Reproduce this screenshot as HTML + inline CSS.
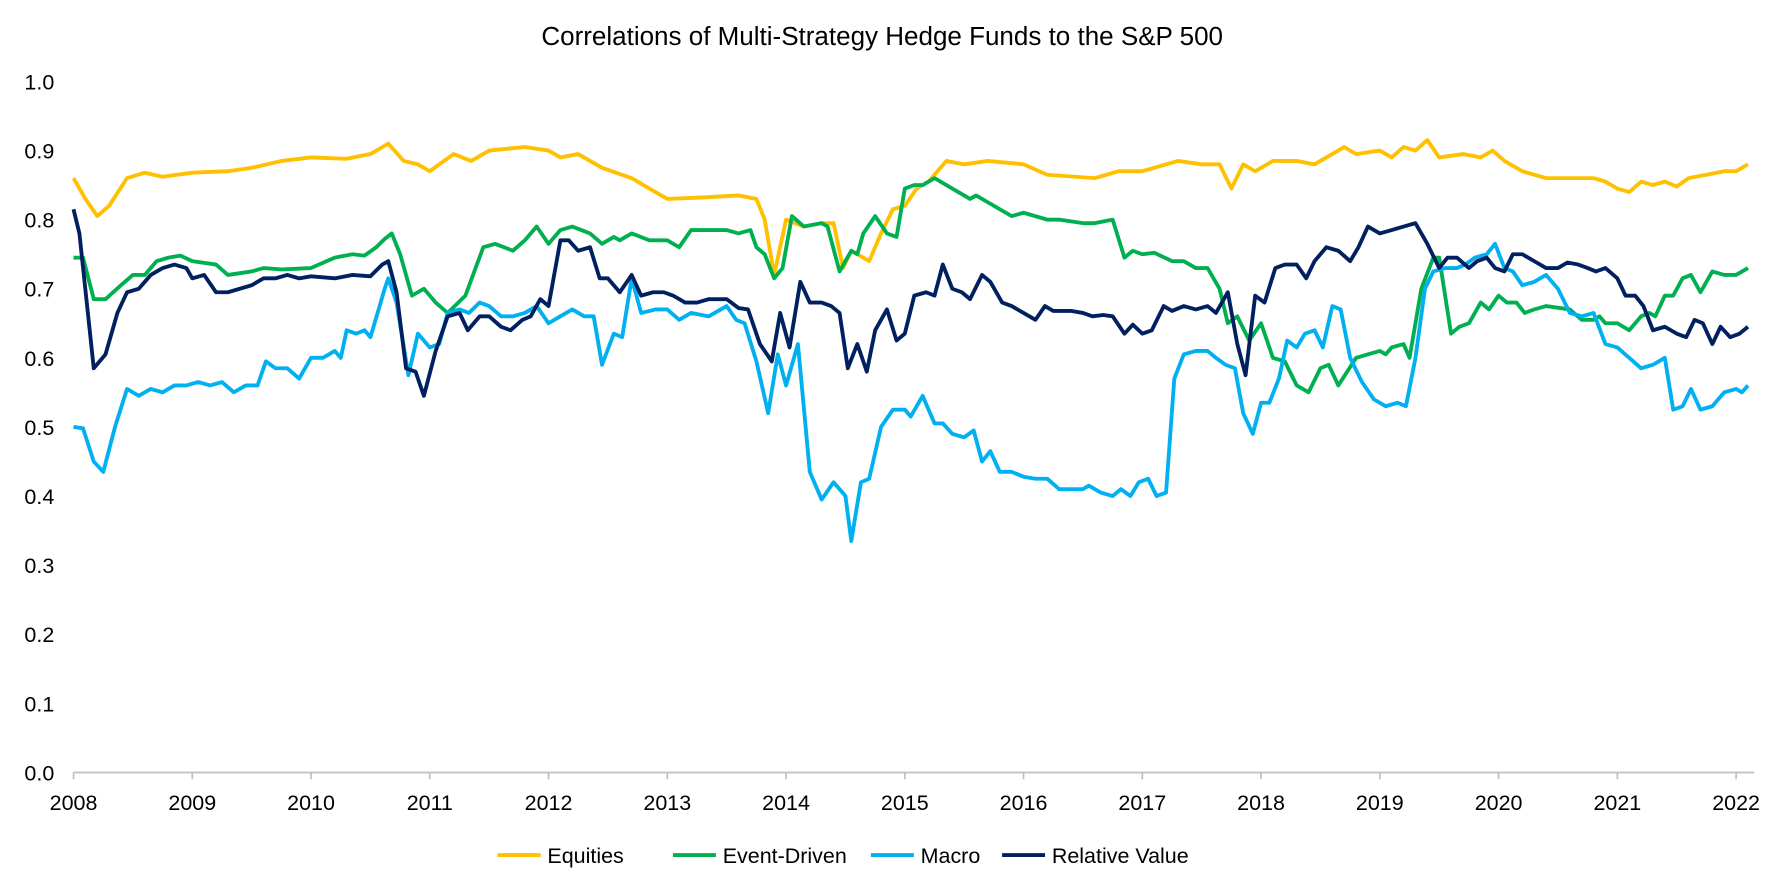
<!DOCTYPE html>
<html><head><meta charset="utf-8">
<style>
html,body{margin:0;padding:0;background:#fff;}
svg{display:block;font-family:"Liberation Sans",Arial,sans-serif;}
</style></head>
<body>
<svg id="chart" width="1772" height="886" viewBox="0 0 1772 886">
<g transform="scale(1.131)">
<text x="780" y="40" text-anchor="middle" font-size="23" fill="#000">Correlations of Multi-Strategy Hedge Funds to the S&amp;P 500</text>
<g id="yaxis"></g>
<g id="xaxis"></g>
<g id="series"></g>
<g id="legend"></g>
</g>
</svg>
<script>
const yTicks=[0,0.1,0.2,0.3,0.4,0.5,0.6,0.7,0.8,0.9,1.0];
const xTicks=[2008,2009,2010,2011,2012,2013,2014,2015,2016,2017,2018,2019,2020,2021,2022];
const seriesNames=["Equities","Event-Driven","Macro","Relative Value"];
const seriesColors=["#FFC000","#00B050","#00B0F0","#002060"];

const eqT=[2008.0,2008.1,2008.2,2008.3,2008.45,2008.6,2008.75,2009.0,2009.3,2009.5,2009.75,2010.0,2010.3,2010.5,2010.65,2010.78,2010.9,2011.0,2011.2,2011.35,2011.5,2011.8,2012.0,2012.1,2012.25,2012.45,2012.7,2012.85,2013.0,2013.3,2013.6,2013.75,2013.82,2013.9,2014.0,2014.15,2014.3,2014.4,2014.48,2014.55,2014.7,2014.8,2014.9,2015.0,2015.1,2015.2,2015.35,2015.5,2015.7,2016.0,2016.2,2016.6,2016.8,2017.0,2017.3,2017.5,2017.65,2017.75,2017.85,2017.95,2018.1,2018.3,2018.45,2018.7,2018.8,2019.0,2019.1,2019.2,2019.3,2019.4,2019.5,2019.7,2019.85,2019.95,2020.05,2020.2,2020.4,2020.8,2020.9,2021.0,2021.1,2021.2,2021.3,2021.4,2021.5,2021.6,2021.75,2021.9,2022.0,2022.1];
const eqV=[0.86,0.83,0.805,0.82,0.86,0.868,0.862,0.868,0.87,0.875,0.885,0.89,0.888,0.895,0.91,0.885,0.88,0.87,0.895,0.885,0.9,0.905,0.9,0.89,0.895,0.875,0.86,0.845,0.83,0.832,0.835,0.83,0.80,0.72,0.80,0.79,0.795,0.795,0.73,0.755,0.74,0.78,0.815,0.82,0.845,0.855,0.885,0.88,0.885,0.88,0.865,0.86,0.87,0.87,0.885,0.88,0.88,0.845,0.88,0.87,0.885,0.885,0.88,0.905,0.895,0.9,0.89,0.905,0.9,0.915,0.89,0.895,0.89,0.9,0.885,0.87,0.86,0.86,0.855,0.845,0.84,0.855,0.85,0.855,0.848,0.86,0.865,0.87,0.87,0.88];

const edT=[2008.0,2008.08,2008.17,2008.27,2008.4,2008.5,2008.6,2008.7,2008.8,2008.9,2009.0,2009.2,2009.3,2009.5,2009.6,2009.75,2010.0,2010.2,2010.35,2010.45,2010.55,2010.62,2010.68,2010.75,2010.85,2010.95,2011.05,2011.15,2011.3,2011.45,2011.55,2011.7,2011.8,2011.9,2012.0,2012.1,2012.2,2012.35,2012.45,2012.55,2012.6,2012.7,2012.85,2013.0,2013.1,2013.2,2013.5,2013.6,2013.7,2013.75,2013.82,2013.9,2013.97,2014.05,2014.15,2014.3,2014.35,2014.45,2014.55,2014.6,2014.65,2014.75,2014.85,2014.93,2015.0,2015.08,2015.15,2015.25,2015.4,2015.55,2015.6,2015.8,2015.9,2016.0,2016.2,2016.3,2016.5,2016.6,2016.75,2016.85,2016.92,2017.0,2017.1,2017.25,2017.35,2017.45,2017.55,2017.65,2017.72,2017.8,2017.9,2018.0,2018.1,2018.2,2018.3,2018.4,2018.5,2018.57,2018.65,2018.8,2018.9,2019.0,2019.05,2019.1,2019.2,2019.25,2019.35,2019.45,2019.5,2019.6,2019.67,2019.75,2019.85,2019.92,2020.0,2020.07,2020.15,2020.22,2020.3,2020.4,2020.6,2020.7,2020.8,2020.85,2020.9,2021.0,2021.1,2021.2,2021.27,2021.32,2021.4,2021.47,2021.55,2021.62,2021.7,2021.8,2021.9,2022.0,2022.1];
const edV=[0.745,0.745,0.685,0.685,0.705,0.72,0.72,0.74,0.745,0.748,0.74,0.735,0.72,0.725,0.73,0.728,0.73,0.745,0.75,0.748,0.76,0.772,0.78,0.75,0.69,0.70,0.68,0.665,0.69,0.76,0.765,0.755,0.77,0.79,0.765,0.785,0.79,0.78,0.765,0.775,0.77,0.78,0.77,0.77,0.76,0.785,0.785,0.78,0.785,0.76,0.75,0.715,0.73,0.805,0.79,0.795,0.79,0.725,0.755,0.75,0.78,0.805,0.78,0.775,0.845,0.85,0.85,0.86,0.845,0.83,0.835,0.815,0.805,0.81,0.8,0.8,0.795,0.795,0.8,0.745,0.755,0.75,0.752,0.74,0.74,0.73,0.73,0.70,0.65,0.66,0.625,0.65,0.60,0.595,0.56,0.55,0.585,0.59,0.56,0.60,0.605,0.61,0.605,0.615,0.62,0.60,0.70,0.745,0.745,0.635,0.645,0.65,0.68,0.67,0.69,0.68,0.68,0.665,0.67,0.675,0.67,0.655,0.655,0.66,0.65,0.65,0.64,0.66,0.665,0.66,0.69,0.69,0.715,0.72,0.695,0.725,0.72,0.72,0.73];

const mcT=[2008.0,2008.08,2008.17,2008.25,2008.35,2008.45,2008.55,2008.65,2008.75,2008.85,2008.95,2009.05,2009.15,2009.25,2009.35,2009.45,2009.55,2009.62,2009.7,2009.8,2009.9,2010.0,2010.1,2010.2,2010.25,2010.3,2010.38,2010.45,2010.5,2010.57,2010.62,2010.65,2010.72,2010.82,2010.9,2011.0,2011.08,2011.15,2011.25,2011.33,2011.42,2011.5,2011.6,2011.7,2011.8,2011.9,2012.0,2012.1,2012.2,2012.3,2012.38,2012.45,2012.55,2012.62,2012.7,2012.78,2012.9,2013.0,2013.1,2013.2,2013.35,2013.5,2013.58,2013.65,2013.75,2013.85,2013.93,2014.0,2014.1,2014.2,2014.3,2014.4,2014.5,2014.55,2014.63,2014.7,2014.8,2014.9,2015.0,2015.05,2015.15,2015.25,2015.32,2015.4,2015.5,2015.58,2015.65,2015.72,2015.8,2015.9,2016.0,2016.1,2016.2,2016.3,2016.4,2016.5,2016.55,2016.65,2016.75,2016.82,2016.9,2016.97,2017.05,2017.12,2017.2,2017.27,2017.35,2017.45,2017.55,2017.62,2017.7,2017.78,2017.85,2017.93,2018.0,2018.07,2018.15,2018.22,2018.3,2018.37,2018.45,2018.52,2018.6,2018.67,2018.75,2018.85,2018.95,2019.05,2019.15,2019.22,2019.3,2019.38,2019.45,2019.55,2019.65,2019.72,2019.8,2019.9,2019.97,2020.05,2020.12,2020.2,2020.3,2020.4,2020.5,2020.6,2020.7,2020.8,2020.9,2021.0,2021.1,2021.2,2021.3,2021.4,2021.47,2021.55,2021.62,2021.7,2021.8,2021.9,2022.0,2022.05,2022.1];
const mcV=[0.50,0.498,0.45,0.435,0.50,0.555,0.545,0.555,0.55,0.56,0.56,0.565,0.56,0.565,0.55,0.56,0.56,0.595,0.585,0.585,0.57,0.60,0.60,0.61,0.60,0.64,0.635,0.64,0.63,0.67,0.70,0.715,0.68,0.575,0.635,0.615,0.62,0.665,0.67,0.665,0.68,0.675,0.66,0.66,0.665,0.675,0.65,0.66,0.67,0.66,0.66,0.59,0.635,0.63,0.715,0.665,0.67,0.67,0.655,0.665,0.66,0.675,0.655,0.65,0.595,0.52,0.605,0.56,0.62,0.435,0.395,0.42,0.40,0.335,0.42,0.425,0.50,0.525,0.525,0.515,0.545,0.505,0.505,0.49,0.485,0.495,0.45,0.465,0.435,0.435,0.428,0.425,0.425,0.41,0.41,0.41,0.415,0.405,0.40,0.41,0.40,0.42,0.425,0.40,0.405,0.57,0.605,0.61,0.61,0.60,0.59,0.585,0.52,0.49,0.535,0.535,0.57,0.625,0.615,0.635,0.64,0.615,0.675,0.67,0.60,0.565,0.54,0.53,0.535,0.53,0.60,0.70,0.725,0.73,0.73,0.735,0.745,0.75,0.765,0.73,0.725,0.705,0.71,0.72,0.70,0.665,0.66,0.665,0.62,0.615,0.60,0.585,0.59,0.60,0.525,0.53,0.555,0.525,0.53,0.55,0.555,0.55,0.56];

const rvT=[2008.0,2008.05,2008.17,2008.27,2008.37,2008.45,2008.55,2008.65,2008.75,2008.85,2008.95,2009.0,2009.1,2009.2,2009.3,2009.4,2009.5,2009.6,2009.7,2009.8,2009.9,2010.0,2010.2,2010.35,2010.5,2010.6,2010.65,2010.72,2010.8,2010.88,2010.95,2011.05,2011.15,2011.25,2011.32,2011.42,2011.5,2011.6,2011.68,2011.78,2011.85,2011.93,2012.0,2012.1,2012.17,2012.25,2012.35,2012.43,2012.5,2012.6,2012.7,2012.78,2012.88,2012.97,2013.05,2013.15,2013.25,2013.35,2013.5,2013.6,2013.68,2013.78,2013.88,2013.95,2014.03,2014.12,2014.2,2014.3,2014.38,2014.45,2014.52,2014.6,2014.68,2014.75,2014.85,2014.93,2015.0,2015.08,2015.18,2015.25,2015.32,2015.4,2015.48,2015.55,2015.65,2015.72,2015.82,2015.9,2016.0,2016.1,2016.18,2016.25,2016.4,2016.5,2016.58,2016.67,2016.75,2016.85,2016.92,2017.0,2017.08,2017.18,2017.25,2017.35,2017.45,2017.55,2017.62,2017.72,2017.8,2017.87,2017.95,2018.03,2018.12,2018.2,2018.3,2018.38,2018.45,2018.55,2018.65,2018.75,2018.82,2018.9,2019.0,2019.1,2019.2,2019.3,2019.4,2019.5,2019.57,2019.65,2019.75,2019.82,2019.9,2019.97,2020.05,2020.12,2020.2,2020.3,2020.4,2020.5,2020.58,2020.67,2020.75,2020.82,2020.9,2021.0,2021.07,2021.15,2021.22,2021.3,2021.4,2021.5,2021.58,2021.65,2021.72,2021.8,2021.87,2021.95,2022.03,2022.1];
const rvV=[0.815,0.78,0.585,0.605,0.665,0.695,0.70,0.72,0.73,0.735,0.73,0.715,0.72,0.695,0.695,0.70,0.705,0.715,0.715,0.72,0.715,0.718,0.715,0.72,0.718,0.735,0.74,0.695,0.585,0.58,0.545,0.61,0.66,0.665,0.64,0.66,0.66,0.645,0.64,0.655,0.66,0.685,0.675,0.77,0.77,0.755,0.76,0.715,0.715,0.695,0.72,0.69,0.695,0.695,0.69,0.68,0.68,0.685,0.685,0.672,0.67,0.62,0.595,0.665,0.615,0.71,0.68,0.68,0.675,0.665,0.585,0.62,0.58,0.64,0.67,0.625,0.635,0.69,0.695,0.69,0.735,0.70,0.695,0.685,0.72,0.71,0.68,0.675,0.665,0.655,0.675,0.668,0.668,0.665,0.66,0.662,0.66,0.635,0.648,0.635,0.64,0.675,0.668,0.675,0.67,0.675,0.665,0.695,0.62,0.575,0.69,0.68,0.73,0.735,0.735,0.715,0.74,0.76,0.755,0.74,0.76,0.79,0.78,0.785,0.79,0.795,0.765,0.73,0.745,0.745,0.73,0.74,0.745,0.73,0.725,0.75,0.75,0.74,0.73,0.73,0.738,0.735,0.73,0.725,0.73,0.715,0.69,0.69,0.675,0.64,0.645,0.635,0.63,0.655,0.65,0.62,0.645,0.63,0.635,0.645];

const NS="http://www.w3.org/2000/svg";
const X0=65,X1=1535,Y0=683,Y1=72;
function xs(t){return X0+(t-2008)/(2022-2008)*(X1-X0);}
function ys(v){return Y0-(v-0)/(1-0)*(Y0-Y1);}
function mk(tag,attrs,parent){const e=document.createElementNS(NS,tag);for(const k in attrs)e.setAttribute(k,attrs[k]);parent.appendChild(e);return e;}

const yg=document.getElementById('yaxis');
yTicks.forEach(v=>{
  const t=mk('text',{x:48,y:ys(v)+7,'text-anchor':'end','font-size':19,fill:'#000'},yg);
  t.textContent=v.toFixed(1);
  
  
});
const xg=document.getElementById('xaxis');
const axl=mk('line',{x1:X0,y1:Y0,x2:1551,y2:Y0,stroke:'#bfbfbf','stroke-width':1.5},xg);


xTicks.forEach(yr=>{
  const tk=mk('line',{x1:xs(yr),y1:Y0,x2:xs(yr),y2:Y0+6,stroke:'#bfbfbf','stroke-width':1.5},xg);
  
  
  const t=mk('text',{x:xs(yr),y:716,'text-anchor':'middle','font-size':19,fill:'#000'},xg);
  t.textContent=yr;
  
  
});

const sg=document.getElementById('series');
const allT=[eqT,edT,mcT,rvT], allV=[eqV,edV,mcV,rvV];
const snames=['equities-line','event-driven-line','macro-line','relative-value-line'];
for(let s=0;s<4;s++){
  const d=allT[s].map((t,i)=>(i?'L':'M')+xs(t).toFixed(1)+','+ys(allV[s][i]).toFixed(1)).join('');
  const p=mk('path',{d:d,fill:'none',stroke:seriesColors[s],'stroke-width':3.4,'stroke-linejoin':'round'},sg);
  
  
}

const lg=document.getElementById('legend');
const lx=[440,595,770,886];
const lnames=['legend-entry-equities','legend-entry-event-driven','legend-entry-macro','legend-entry-relative-value'];
for(let s=0;s<4;s++){
  const g=mk('g',{},lg);
  
  
  mk('line',{x1:lx[s],y1:756,x2:lx[s]+38,y2:756,stroke:seriesColors[s],'stroke-width':3.4},g);
  const t=mk('text',{x:lx[s]+44,y:763,'font-size':19,fill:'#000'},g);
  t.textContent=seriesNames[s];
}
</script>
</body></html>
